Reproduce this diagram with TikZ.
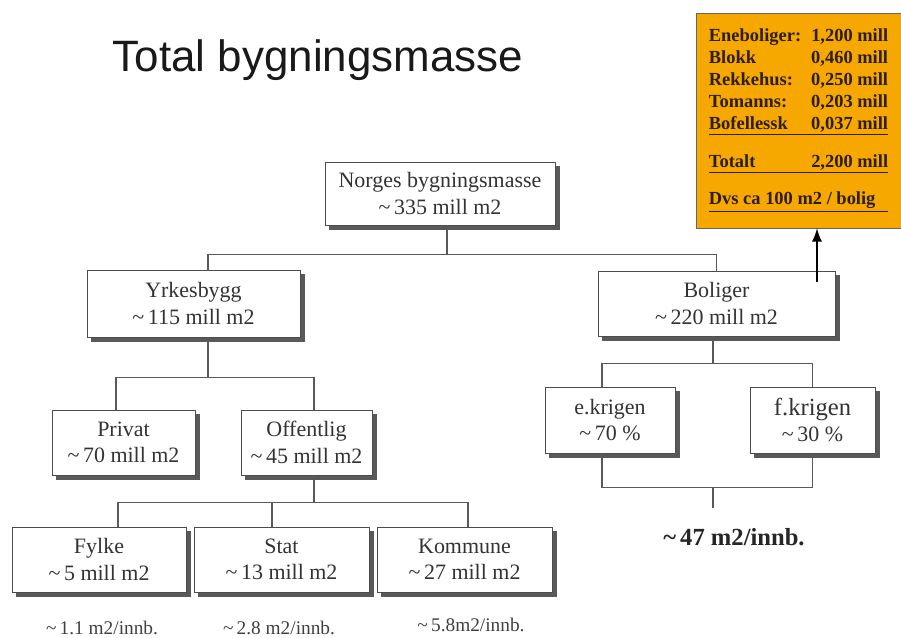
\documentclass[tikz,border=0pt]{standalone}
\usepackage{fontspec}
\setmainfont{Liberation Serif}
\newfontfamily\arialfont{Liberation Sans}
\usepackage{tikz}
\usetikzlibrary{calc, arrows, backgrounds}
\definecolor{boxorange}{RGB}{246,168,0}
\definecolor{boxtext}{RGB}{45,30,10}
\tikzset{>=latex}
\tikzset{
  box/.style={draw=black!70, fill=white, text=black!80, align=center, inner sep=2pt,
    minimum height=1.3cm, font=\fontsize{12.5}{15}\selectfont},
  shade/.style={fill=black!65},
  conn/.style={draw=black!65, line width=0.6pt},
  arr/.style={->, line width=1.6pt, black},
  percap/.style={text=black!75, font=\fontsize{11}{13}\selectfont}
}
\newcommand{\orow}[2]{\makebox[102pt]{#1\hfill #2}}
\newcommand{\til}{\textasciitilde\,}

\begin{document}
\begin{tikzpicture}[x=0.02cm, y=-0.02cm]
\useasboundingbox (0,0) rectangle (901,637);

\node[font=\fontsize{25}{30}\selectfont\arialfont, text=black!90] (title) at (318,60) {Total bygningsmasse};

\node[box, minimum width=4.6cm, minimum height=1.26cm] (nb) at (440,193.5) {Norges bygningsmasse\\ \til335 mill m2};
\node[box, minimum width=4.26cm, minimum height=1.34cm] (yb) at (193.5,303.5) {Yrkesbygg\\ \til115 mill m2};
\node[box, minimum width=4.74cm] (bol) at (716.5,303.5) {Boliger\\ \til220 mill m2};
\node[box, minimum width=2.86cm] (priv) at (123.5,442.5) {Privat\\ \til70 mill m2};
\node[box, minimum width=2.62cm] (off) at (306.5,442.5) {Offentlig\\ \til45 mill m2};
\node[box, minimum width=2.6cm, minimum height=1.32cm] (ekr) at (610,420) {e.krigen\\ \til70 \%};
\node[box, minimum width=2.5cm, minimum height=1.32cm] (fkr) at (812.5,420) {{\fontsize{14}{15}\selectfont f.krigen}\\ \til30 \%};
\node[box, minimum width=3.48cm] (fyl) at (99,559.5) {Fylke\\ \til5 mill m2};
\node[box, minimum width=3.5cm] (stat) at (281.5,559.5) {Stat\\ \til13 mill m2};
\node[box, minimum width=3.5cm] (kom) at (464.5,559.5) {Kommune\\ \til27 mill m2};

% shadows behind the boxes
\begin{scope}[on background layer]
\foreach \n in {nb, yb, bol, priv, off, ekr, fkr, fyl, stat, kom}
  \fill[shade] ($(\n.south west)+(0.09cm,-0.09cm)$) rectangle ($(\n.north east)+(0.09cm,-0.09cm)$);
\end{scope}

\node[percap] (fylpc) at (102,628) {\til1.1 m2/innb.};
\node[percap] (statpc) at (279,628) {\til2.8 m2/innb.};
\node[percap] (kompc) at (471,625) {\til5.8m2/innb.};
\node[font=\fontsize{14}{16}\selectfont\bfseries, text=black!85] (bpc) at (734,537) {\til47 m2/innb.};

\node[draw=black!60, fill=boxorange, text=boxtext, minimum width=4.1cm, minimum height=4.3cm,
  align=left, font=\fontsize{10.5}{12.5}\selectfont\bfseries] (tot) at (798.5,120.5)
  {\orow{Eneboliger:}{1,200 mill}\\
   \orow{Blokk}{0,460 mill}\\
   \orow{Rekkehus:}{0,250 mill}\\
   \orow{Tomanns:}{0,203 mill}\\
   \underline{\orow{Bofellessk}{0,037 mill}}\\[9pt]
   \underline{\orow{Totalt}{2,200 mill}}\\[9pt]
   \underline{\orow{Dvs ca 100 m2 / bolig}{}}};

\draw[conn] ([xshift=0.14cm]nb.south) -- ++(0,30);
\draw[conn] ([xshift=0.29cm]yb.north) -- ++(0,-15) -| (bol.north);

\draw[conn] ([xshift=0.29cm]yb.south) -- ++(0,41);
\draw[conn] ([xshift=-0.15cm]priv.north) -- ++(0,-32) -| ([xshift=0.15cm]off.north);

\draw[conn] ([xshift=0.15cm]off.south) -- ++(0,28);
\draw[conn] ([xshift=0.38cm]fyl.north) -- ++(0,-24) -| ([xshift=0.07cm]kom.north);
\draw[conn] ([xshift=-0.19cm]stat.north) -- ++(0,-24);

\draw[conn] ([xshift=-0.07cm]bol.south) -- ++(0,28);
\draw[conn] ([xshift=-0.16cm]ekr.north) -- ++(0,-23) -| (fkr.north);
\draw[conn] ([xshift=-0.16cm]ekr.south) -- ++(0,34) -| (fkr.south);
\coordinate (bstem) at (713,508);
\draw[conn] (bstem) -- ++(0,-21);

\draw[arr] ([xshift=2.01cm,yshift=-0.22cm]bol.north) -- ([xshift=2.01cm]bol.north |- tot.south);

\end{tikzpicture}
\end{document}
